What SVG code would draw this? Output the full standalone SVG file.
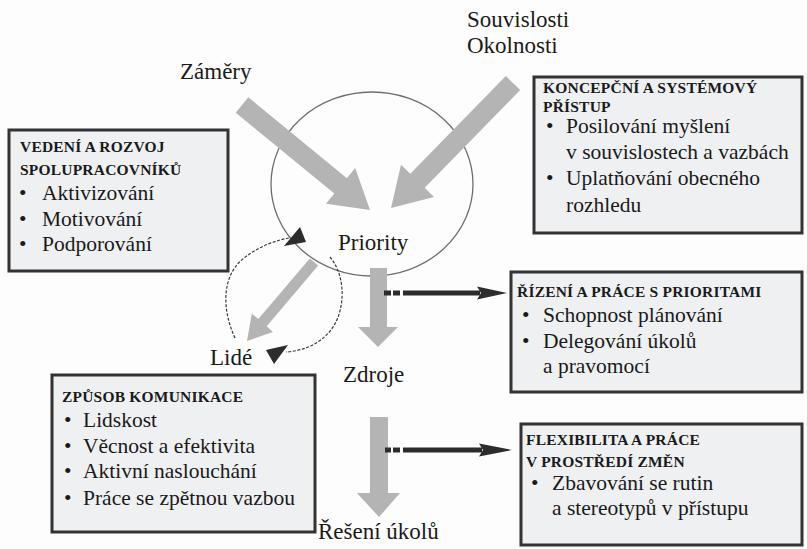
<svg xmlns="http://www.w3.org/2000/svg" width="807" height="549" viewBox="0 0 807 549">
  <style>
    text { font-family: 'Liberation Serif', 'Times New Roman', Times, serif; fill: #1a1a1a; }
    .lbl { font-size: 23px; }
    .ttl { font-size: 15.5px; font-weight: bold; letter-spacing: 0.2px; }
    .itm { font-size: 21.5px; }
    .box { fill: #eff0f2; stroke: #333; stroke-width: 3; }
    .flow { fill: #b4b4b4; }
    .ring { fill: none; stroke: #6e6e6e; stroke-width: 1.3; }
    .loop { fill: none; stroke: #3a3a3a; stroke-width: 1.2; stroke-dasharray: 3 1.6; }
    .dark { fill: #2c2c2c; }
  </style>

  <rect x="0" y="0" width="807" height="549" fill="#fdfdfd"/>

  <!-- central ring -->
  <ellipse id="priority-ring" class="ring" cx="372" cy="184" rx="101" ry="92"/>

  <g id="connectors">
    <!-- Záměry into the ring -->
    <polygon class="flow" points="248.3,97.3 346.9,178.2 355.2,168.1 370,210 326.0,203.7 334.3,193.6 235.7,112.7"/>
    <!-- Souvislosti / Okolnosti into the ring -->
    <polygon class="flow" points="520.2,90.0 424.7,187.8 434.0,196.9 391,208 401.0,164.7 410.3,173.8 505.8,76.0"/>
    <!-- ring to Lidé -->
    <polygon class="flow" points="318.2,265.6 266.7,326.3 273.0,332.0 247,341 251.8,313.6 258.3,319.1 309.8,258.4"/>
    <!-- ring to Zdroje -->
    <polygon class="flow" points="370,268 387,268 387,327 398,327 378,347 358,327 370,327"/>
    <!-- Zdroje to Řešení úkolů -->
    <polygon class="flow" points="370,417 388,417 388,493 400,493 379,517 357,493 370,493"/>

    <!-- feedback loop around Lidé -->
    <path class="loop" d="M235,338 C222,310 221,276 244,258 C257,248 272,241 289,238"/>
    <polygon class="dark" points="300,227 284,246 306,242"/>
    <path class="loop" d="M330,257 C346,276 346,310 331,330 C319,345 302,351 286,352"/>
    <polygon class="dark" points="266,350 288,345 274,364"/>

    <!-- dark arrows to the side boxes -->
    <rect class="dark" x="384" y="290.5" width="7" height="5"/>
    <rect class="dark" x="393" y="290.5" width="7" height="5"/>
    <rect class="dark" x="403" y="290.5" width="77" height="5"/>
    <polygon class="dark" points="477,286.5 507,293 477,299.5 481,293"/>

    <rect class="dark" x="385" y="447.5" width="6" height="5"/>
    <rect class="dark" x="393" y="447.5" width="7" height="5"/>
    <rect class="dark" x="403" y="447.5" width="79" height="5"/>
    <polygon class="dark" points="479,443.5 512,450 479,456.5 483,450"/>
  </g>

  <!-- plain labels -->
  <g id="label-zamery"><text class="lbl" x="180" y="79">Záměry</text></g>
  <g id="label-souvislosti">
    <text class="lbl" x="467" y="27">Souvislosti</text>
    <text class="lbl" x="467" y="53">Okolnosti</text>
  </g>
  <g id="label-priority"><text class="lbl" x="338" y="250">Priority</text></g>
  <g id="label-lide"><text class="lbl" x="210" y="365">Lidé</text></g>
  <g id="label-zdroje"><text class="lbl" x="343" y="382">Zdroje</text></g>
  <g id="label-reseni"><text class="lbl" x="318" y="539">Řešení úkolů</text></g>

  <!-- text boxes -->
  <g id="box-vedeni">
    <rect class="box" x="9" y="130" width="219" height="141"/>
    <text class="ttl" x="20" y="152">VEDENÍ A ROZVOJ</text>
    <text class="ttl" x="20" y="175">SPOLUPRACOVNÍKŮ</text>
    <text class="itm" x="19" y="200">•</text><text class="itm" x="42" y="200">Aktivizování</text>
    <text class="itm" x="19" y="226">•</text><text class="itm" x="42" y="226">Motivování</text>
    <text class="itm" x="19" y="251">•</text><text class="itm" x="42" y="251">Podporování</text>
  </g>

  <g id="box-koncepcni">
    <rect class="box" x="534" y="77" width="268" height="156"/>
    <text class="ttl" x="543" y="92.5">KONCEPČNÍ A SYSTÉMOVÝ</text>
    <text class="ttl" x="543" y="112">PŘÍSTUP</text>
    <text class="itm" x="546" y="133">•</text><text class="itm" x="566" y="133">Posilování myšlení</text>
    <text class="itm" x="566" y="159">v souvislostech a vazbách</text>
    <text class="itm" x="546" y="185">•</text><text class="itm" x="566" y="185">Uplatňování obecného</text>
    <text class="itm" x="566" y="212">rozhledu</text>
  </g>

  <g id="box-rizeni">
    <rect class="box" x="511" y="272" width="291" height="120"/>
    <text class="ttl" x="517" y="297">ŘÍZENÍ A PRÁCE S PRIORITAMI</text>
    <text class="itm" x="522" y="322">•</text><text class="itm" x="543" y="322">Schopnost plánování</text>
    <text class="itm" x="522" y="348">•</text><text class="itm" x="543" y="348">Delegování úkolů</text>
    <text class="itm" x="543" y="373">a pravomocí</text>
  </g>

  <g id="box-flexibilita">
    <rect class="box" x="521" y="424" width="281" height="121"/>
    <text class="ttl" x="526" y="445">FLEXIBILITA A PRÁCE</text>
    <text class="ttl" x="526" y="467">V PROSTŘEDÍ ZMĚN</text>
    <text class="itm" x="531" y="490">•</text><text class="itm" x="552" y="490">Zbavování se rutin</text>
    <text class="itm" x="552" y="515">a stereotypů v přístupu</text>
  </g>

  <g id="box-komunikace">
    <rect class="box" x="52" y="375" width="263" height="157"/>
    <text class="ttl" x="62" y="402">ZPŮSOB KOMUNIKACE</text>
    <text class="itm" x="64" y="427">•</text><text class="itm" x="83" y="427">Lidskost</text>
    <text class="itm" x="64" y="453">•</text><text class="itm" x="83" y="453">Věcnost a efektivita</text>
    <text class="itm" x="64" y="478">•</text><text class="itm" x="83" y="478">Aktivní naslouchání</text>
    <text class="itm" x="64" y="505">•</text><text class="itm" x="83" y="505">Práce se zpětnou vazbou</text>
  </g>
</svg>
